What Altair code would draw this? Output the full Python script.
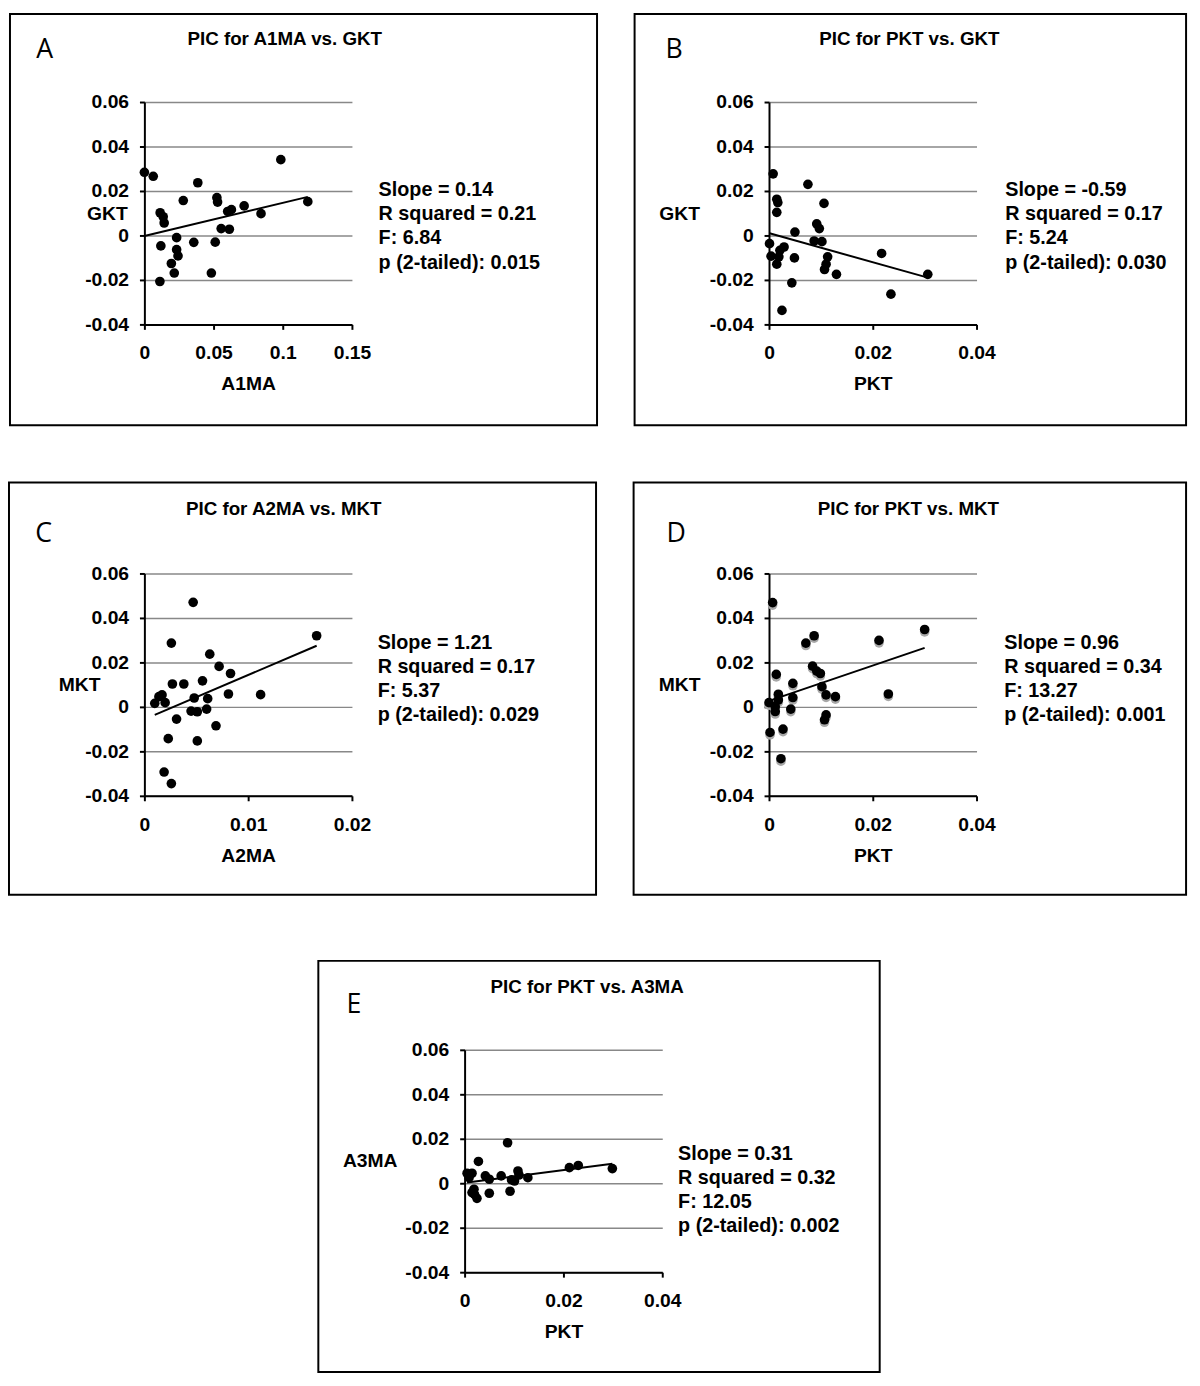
import altair as alt
import pandas as pd

# ---------------- data ----------------
a_x = [0.0, 0.0064, 0.0112, 0.0114, 0.0136, 0.0143, 0.0119, 0.0233, 0.0233, 0.0243, 0.0195, 0.0216, 0.0281, 0.0386,
       0.0357, 0.0484, 0.0512, 0.0524, 0.0529, 0.0555, 0.0614, 0.0602, 0.0629, 0.0721, 0.0843, 0.0986, 0.1181]
a_y = [0.0284, 0.0266, -0.0207, 0.0102, 0.0084, 0.0056, -0.0047, -0.001, -0.0064, -0.0092, -0.0126, -0.0169, 0.0157,
       0.0237, -0.0031, -0.0169, -0.003, 0.017, 0.015, 0.0031, 0.0028, 0.0108, 0.0116, 0.0133, 0.0098, 0.0341, 0.0152]

b_x = [0.0008, 0.0075, 0.0015, 0.0017, 0.0015, 0.0106, 0.0092, 0.0097, 0.005, 0.0087, 0.0102, 0.0001, 0.0029, 0.0021,
       0.0004, 0.0019, 0.0015, 0.0049, 0.0113, 0.011, 0.0107, 0.013, 0.0217, 0.0044, 0.0235, 0.0306, 0.0025]
b_y = [0.0277, 0.023, 0.0163, 0.0148, 0.0104, 0.0144, 0.0052, 0.0031, 0.0015, -0.0025, -0.0028, -0.0037, -0.0052,
       -0.0067, -0.0093, -0.0096, -0.0129, -0.0101, -0.0096, -0.0129, -0.0153, -0.0175, -0.0081, -0.0213, -0.0264,
       -0.0175, -0.0337]

c_x = [0.0047, 0.0026, 0.0166, 0.0063, 0.0072, 0.0083, 0.0056, 0.0027, 0.0038, 0.0017, 0.0014, 0.001, 0.002, 0.0048,
       0.0061, 0.0081, 0.0112, 0.0045, 0.0051, 0.006, 0.0031, 0.0069, 0.0023, 0.0051, 0.0019, 0.0026]
c_y = [0.047, 0.0287, 0.032, 0.0237, 0.0182, 0.015, 0.0117, 0.0103, 0.0103, 0.0054, 0.0046, 0.0016, 0.0019, 0.004,
       0.0037, 0.0058, 0.0055, -0.0019, -0.0022, -0.001, -0.0055, -0.0085, -0.0143, -0.0153, -0.0293, -0.0345]

d_x = [0.0007, 0.03, 0.0087, 0.0071, 0.0212, 0.0084, 0.0092, 0.0099, 0.0014, 0.0046, 0.0102, 0.0018, 0.0046, 0.011,
       0.0128, 0.023, 0.0, 0.0018, 0.0012, 0.0012, 0.0042, 0.011, 0.0107, 0.0002, 0.0027, 0.0023]
d_y = [0.0469, 0.0348, 0.032, 0.0287, 0.0299, 0.0183, 0.0161, 0.015, 0.0146, 0.0106, 0.0091, 0.0057, 0.0042, 0.0054,
       0.0046, 0.0058, 0.0019, 0.0031, 0.0001, -0.0021, -0.001, -0.0036, -0.0058, -0.0115, -0.01, -0.0233]

e_x = [0.0087, 0.0028, 0.0005, 0.0015, 0.0009, 0.0042, 0.005, 0.0074, 0.0095, 0.0101, 0.0108, 0.011, 0.0128, 0.0212,
       0.023, 0.0299, 0.0019, 0.002, 0.0025, 0.005, 0.0092, 0.0015]
e_y = [0.0182, 0.0098, 0.0045, 0.0045, 0.0025, 0.0033, 0.0018, 0.0033, 0.0015, 0.001, 0.0055, 0.0037, 0.0025, 0.007,
       0.008, 0.0066, -0.0027, -0.005, -0.0068, -0.0045, -0.0036, -0.0042]

y_ticks = [-0.04, -0.02, 0, 0.02, 0.04, 0.06]
x_ticks_a = [0, 0.05, 0.1, 0.15]
x_ticks_c = [0, 0.01, 0.02]
x_ticks_pkt = [0, 0.02, 0.04]

titles = ["PIC for A1MA vs. GKT", "PIC for PKT vs. GKT", "PIC for A2MA vs. MKT", "PIC for PKT vs. MKT",
          "PIC for PKT vs. A3MA"]
letters = ["A", "B", "C", "D", "E"]
stats = [
    ["Slope = 0.14", "R squared = 0.21", "F: 6.84", "p (2-tailed): 0.015"],
    ["Slope = -0.59", "R squared = 0.17", "F: 5.24", "p (2-tailed): 0.030"],
    ["Slope = 1.21", "R squared = 0.17", "F: 5.37", "p (2-tailed): 0.029"],
    ["Slope = 0.96", "R squared = 0.34", "F: 13.27", "p (2-tailed): 0.001"],
    ["Slope = 0.31", "R squared = 0.32", "F: 12.05", "p (2-tailed): 0.002"],
]

FONT = "Liberation Sans"
LETTER_FONT = "Open Sans"


def panel(xs, ys, xdom, xticks, xtitle, ytitle, ytitle_x, title, letter, stat, w, h,
          box, title_pos, letter_pos, stat_pos, shadow=False):
    df = pd.DataFrame({"x": xs, "y": ys})
    one = pd.DataFrame({"k": [0]})
    xenc = alt.X("x:Q", scale=alt.Scale(domain=xdom, nice=False, zero=False),
                 axis=alt.Axis(values=xticks, labelExpr="toString(datum.value)", title=xtitle, grid=False,
                               labelFlush=False, labelOverlap=False, labelPadding=15,
                               titleY=60, titleBaseline="middle"))
    yenc = alt.Y("y:Q", scale=alt.Scale(domain=[-0.04, 0.06], nice=False, zero=False),
                 axis=alt.Axis(values=y_ticks, labelExpr="toString(datum.value)", title=ytitle, grid=True,
                               gridColor="#888888", gridWidth=1.5, labelPadding=11, labelFlush=False,
                               labelOverlap=False, titleAngle=0, titleX=ytitle_x, titleY=h / 2,
                               titleAlign="center", titleBaseline="middle"))
    frame = alt.Chart(one).mark_rect(fill="white", fillOpacity=0, stroke="black", strokeWidth=2).encode(
        x=alt.value(box[0]), x2=alt.value(box[1]), y=alt.value(box[2]), y2=alt.value(box[3]))
    layers = [frame]
    pts_base = alt.Chart(df)
    if shadow:
        layers.append(pts_base.mark_circle(size=95, color="#a8a8a8", opacity=1, yOffset=2.5).encode(x=xenc, y=yenc))
        layers.append(pts_base.mark_circle(size=95, color="black", opacity=1).encode(x="x:Q", y="y:Q"))
    else:
        layers.append(pts_base.mark_circle(size=95, color="black", opacity=1).encode(x=xenc, y=yenc))
    layers.append(pts_base.transform_regression("x", "y").mark_line(color="black", strokeWidth=2).encode(
        x="x:Q", y="y:Q"))
    layers.append(alt.Chart(one).mark_text(font=FONT, fontWeight="bold", fontSize=19, align="center",
                                           baseline="middle", color="black").encode(
        x=alt.value(title_pos[0]), y=alt.value(title_pos[1]), text=alt.value(title)))
    layers.append(alt.Chart(one).mark_text(font=LETTER_FONT, fontSize=27, align="center",
                                           baseline="middle", color="black").encode(
        x=alt.value(letter_pos[0]), y=alt.value(letter_pos[1]), text=alt.value(letter)))
    layers.append(alt.Chart(one).mark_text(font=FONT, fontWeight="bold", fontSize=20, align="left",
                                           baseline="alphabetic", lineHeight=24.5, color="black").encode(
        x=alt.value(stat_pos[0]), y=alt.value(stat_pos[1]), text=alt.value(stat)))
    return alt.layer(*layers).properties(width=w, height=h)


W, H = 210, 225
pA = panel(a_x, a_y, [0, 0.15], x_ticks_a, "A1MA", "GKT", -38, titles[0], letters[0], stats[0], W, H,
           (-136, 458, -89, 327), (142, -64), (-101, -53), (237, 95))
pB = panel(b_x, b_y, [0, 0.04], x_ticks_pkt, "PKT", "GKT", -91, titles[1], letters[1], stats[1], W, H,
           (-136, 422, -89, 327), (142, -64), (-96, -53), (239, 95))
pC = panel(c_x, c_y, [0, 0.02], x_ticks_c, "A2MA", "MKT", -66, titles[2], letters[2], stats[2], W, H,
           (-137, 457, -92, 325), (141, -65), (-102, -40), (236, 76))
pD = panel(d_x, d_y, [0, 0.04], x_ticks_pkt, "PKT", "MKT", -91, titles[3], letters[3], stats[3], W, H,
           (-137, 422, -92, 325), (141, -65), (-94, -40), (238, 76), shadow=True)
pE = panel(e_x, e_y, [0, 0.04], x_ticks_pkt, "PKT", "A3MA", -96, titles[4], letters[4], stats[4], 200, H,
           (-148, 420, -90, 326), (124, -64), (-112, -45), (216, 111))

spacer = alt.Chart(pd.DataFrame({"k": [0]})).mark_point(opacity=0).encode(
    x=alt.value(0), y=alt.value(0)).properties(width=324, height=10)

# with flush bounds, nested concats count as (almost) zero height, so spacing sets the distance between row tops
row1 = alt.hconcat(pA, pB, spacing=422, bounds="flush")
row2 = alt.hconcat(pC, pD, spacing=422, bounds="flush")
row3 = alt.hconcat(spacer, pE, spacing=0, bounds="flush")
upper = alt.vconcat(row1, row2, spacing=477, bounds="flush")
chart = alt.vconcat(upper, row3, spacing=959, bounds="flush").properties(
    padding={"left": 0, "top": -3, "right": 5, "bottom": 5}
).configure_view(stroke=None).configure_axis(
    labelFont=FONT, labelFontWeight="bold", labelFontSize=19.5, labelColor="black",
    titleFont=FONT, titleFontWeight="bold", titleFontSize=19.5, titleColor="black",
    domainColor="black", domainWidth=2, tickColor="black", tickWidth=2, tickSize=5
)

chart.save("out.html", embed_options={"renderer": "svg", "actions": False})
